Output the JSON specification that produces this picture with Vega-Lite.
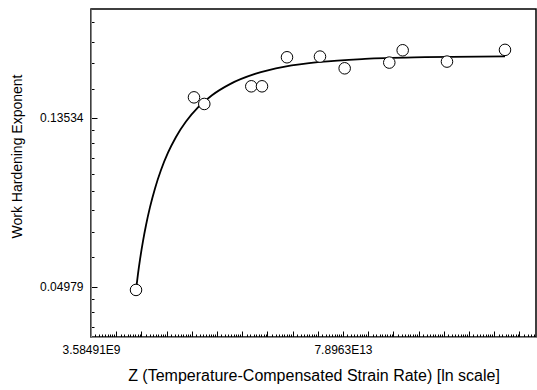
{
  "$schema": "https://vega.github.io/schema/vega-lite/v6.json",
  "width": 445,
  "height": 328,
  "autosize": "none",
  "padding": {"left": 91, "top": 9, "right": 1, "bottom": 53},
  "background": "white",
  "config": {
    "view": {"stroke": "#000", "strokeWidth": 1.5},
    "font": "Liberation Sans"
  },
  "datasets": {
    "points": [
      {"Z": 2.1386e10, "n": 0.04882},
      {"Z": 2.1352e11, "n": 0.15294},
      {"Z": 3.2142e11, "n": 0.14706},
      {"Z": 2.0751e12, "n": 0.16328},
      {"Z": 3.1741e12, "n": 0.16328},
      {"Z": 8.5594e12, "n": 0.19396},
      {"Z": 3.1689e13, "n": 0.19476},
      {"Z": 8.4437e13, "n": 0.18168},
      {"Z": 4.957e14, "n": 0.18795},
      {"Z": 8.4387e14, "n": 0.20218},
      {"Z": 4.895e15, "n": 0.18906},
      {"Z": 4.8922e16, "n": 0.20267}
    ],
    "curve": [
      {"Z": 2.1386e10, "n": 0.0488},
      {"Z": 2.3146e10, "n": 0.05369},
      {"Z": 2.5057e10, "n": 0.05841},
      {"Z": 2.8227e10, "n": 0.06519},
      {"Z": 3.1795e10, "n": 0.07164},
      {"Z": 3.7265e10, "n": 0.07975},
      {"Z": 4.5443e10, "n": 0.08914},
      {"Z": 5.766e10, "n": 0.0994},
      {"Z": 7.6122e10, "n": 0.11012},
      {"Z": 1.0457e11, "n": 0.12092},
      {"Z": 1.5551e11, "n": 0.13249},
      {"Z": 2.5037e11, "n": 0.14404},
      {"Z": 4.3628e11, "n": 0.15484},
      {"Z": 8.9121e11, "n": 0.16544},
      {"Z": 2.4037e12, "n": 0.1757},
      {"Z": 7.9095e12, "n": 0.18345},
      {"Z": 3.1689e13, "n": 0.18867},
      {"Z": 1.8905e14, "n": 0.1921},
      {"Z": 2.0447e15, "n": 0.19402},
      {"Z": 4.8922e16, "n": 0.19508}
    ]
  },
  "layer": [
    {
      "data": {"name": "curve"},
      "mark": {"type": "line", "color": "#000", "strokeWidth": 1.8, "interpolate": "monotone"},
      "encoding": {
        "x": {
          "field": "Z", "type": "quantitative",
          "scale": {"type": "log", "domain": [3.58491e9, 1.6754e17], "nice": false, "zero": false},
          "axis": {
            "orient": "bottom", "grid": false, "ticks": true, "tickColor": "#000", "tickWidth": 1,
            "labelColor": "#000", "labelFontSize": 12, "labelFont": "Liberation Sans", "labelOverlap": false, "labelFlush": false,
            "titleColor": "#000", "titleFont": "Liberation Sans", "titleFontWeight": "normal",
            "values": [3.58491e9, 4.26934e9, 4.95378e9, 5.63822e9, 6.32265e9, 7.00709e9, 7.69152e9, 8.37596e9, 9.06039e9, 9.7448e9, 1.160528e10, 1.346576e10, 1.532623e10, 1.718671e10, 1.904719e10, 2.090767e10, 2.276815e10, 2.462862e10, 2.648912e10, 3.154643e10, 3.660374e10, 4.166105e10, 4.671836e10, 5.177567e10, 5.683298e10, 6.189029e10, 6.69476e10, 7.20049e10, 8.57521e10, 9.94993e10, 1.132464e11, 1.269936e11, 1.407408e11, 1.54488e11, 1.682351e11, 1.819823e11, 1.957296e11, 2.33098e11, 2.70467e11, 3.07836e11, 3.45205e11, 3.82573e11, 4.19942e11, 4.57311e11, 4.9468e11, 5.320482e11, 6.33627e11, 7.35206e11, 8.36784e11, 9.38363e11, 1.039942e12, 1.141521e12, 1.243099e12, 1.344678e12, 1.446257e12, 1.72238e12, 1.9985e12, 2.27462e12, 2.55074e12, 2.82686e12, 3.10298e12, 3.3791e12, 3.65522e12, 3.931334e12, 4.6819e12, 5.43247e12, 6.18304e12, 6.93361e12, 7.68418e12, 8.43475e12, 9.18532e12, 9.93589e12, 1.068647e13, 1.27267e13, 1.4767e13, 1.68073e13, 1.88476e13, 2.08878e13, 2.29281e13, 2.49684e13, 2.70086e13, 2.904885e13, 3.45948e13, 4.01408e13, 4.56868e13, 5.12328e13, 5.67788e13, 6.23248e13, 6.78708e13, 7.34168e13, 7.896296e13, 9.40386e13, 1.091142e14, 1.241898e14, 1.392654e14, 1.54341e14, 1.694167e14, 1.844923e14, 1.995679e14, 2.146436e14, 2.55623e14, 2.96603e14, 3.37583e14, 3.78562e14, 4.19542e14, 4.60522e14, 5.01502e14, 5.42481e14, 5.834617e14, 6.94856e14, 8.06251e14, 9.17645e14, 1.02904e15, 1.140434e15, 1.251829e15, 1.363223e15, 1.474618e15, 1.586013e15, 1.88882e15, 2.19162e15, 2.49442e15, 2.79722e15, 3.10003e15, 3.40283e15, 3.70563e15, 4.00843e15, 4.311232e15, 5.13433e15, 5.95743e15, 6.78053e15, 7.60363e15, 8.42673e15, 9.24983e15, 1.007293e16, 1.089603e16, 1.171914e16, 1.39566e16, 1.6194e16, 1.84314e16, 2.06688e16, 2.29063e16, 2.51437e16, 2.73811e16, 2.96185e16, 3.185593e16, 3.79379e16, 4.40198e16, 5.01017e16, 5.61836e16, 6.22656e16, 6.83475e16, 7.44294e16, 8.05114e16, 8.65934e16, 1.031258e17, 1.196582e17, 1.361906e17, 1.527231e17],
            "tickSize": {"condition": {"test": "abs(log(datum.value)-round(log(datum.value)))<0.001", "value": -6}, "value": -3},
            "labelExpr": "abs(log(datum.value)-22)<0.001 ? '3.58491E9' : abs(log(datum.value)-32)<0.001 ? '7.8963E13' : ''",
            "labelPadding": 13,
            "title": "Z (Temperature-Compensated Strain Rate)  [ln scale]",
            "titleFontSize": 16,
            "titleY": 38,
            "titleBaseline": "middle"
          }
        },
        "y": {
          "field": "n", "type": "quantitative",
          "scale": {"type": "log", "domain": [0.036929, 0.25824], "nice": false, "zero": false},
          "axis": {
            "orient": "left", "grid": false, "ticks": true, "tickColor": "#000", "tickWidth": 1,
            "labelColor": "#000", "labelFontSize": 12, "labelFont": "Liberation Sans", "labelOverlap": false, "labelFlush": false,
            "titleColor": "#000", "titleFont": "Liberation Sans", "titleFontWeight": "normal", "titleFontSize": 14,
            "values": [0.0392966, 0.0427934, 0.0462903, 0.0497871, 0.0592925, 0.0687978, 0.0783032, 0.0878085, 0.0973139, 0.1068193, 0.1163246, 0.12583, 0.1353353, 0.1611735, 0.1870117, 0.2128499, 0.2386881],
            "tickSize": {"condition": {"test": "abs(log(datum.value)-round(log(datum.value)))<0.001", "value": -6}, "value": -3},
            "labelExpr": "abs(log(datum.value)+2)<0.001 ? '0.13534' : abs(log(datum.value)+3)<0.001 ? '0.04979' : ''",
            "labelPadding": 14,
            "title": "Work Hardening Exponent",
            "titleX": -74,
            "titleY": 147,
            "titleBaseline": "middle",
            "titleAngle": -90
          }
        }
      }
    },
    {
      "data": {"name": "points"},
      "mark": {"type": "point", "shape": "circle", "filled": false, "fill": "white", "fillOpacity": 1, "stroke": "#000", "strokeWidth": 1, "size": 133, "opacity": 1},
      "encoding": {
        "x": {"field": "Z", "type": "quantitative"},
        "y": {"field": "n", "type": "quantitative"}
      }
    }
  ]
}
